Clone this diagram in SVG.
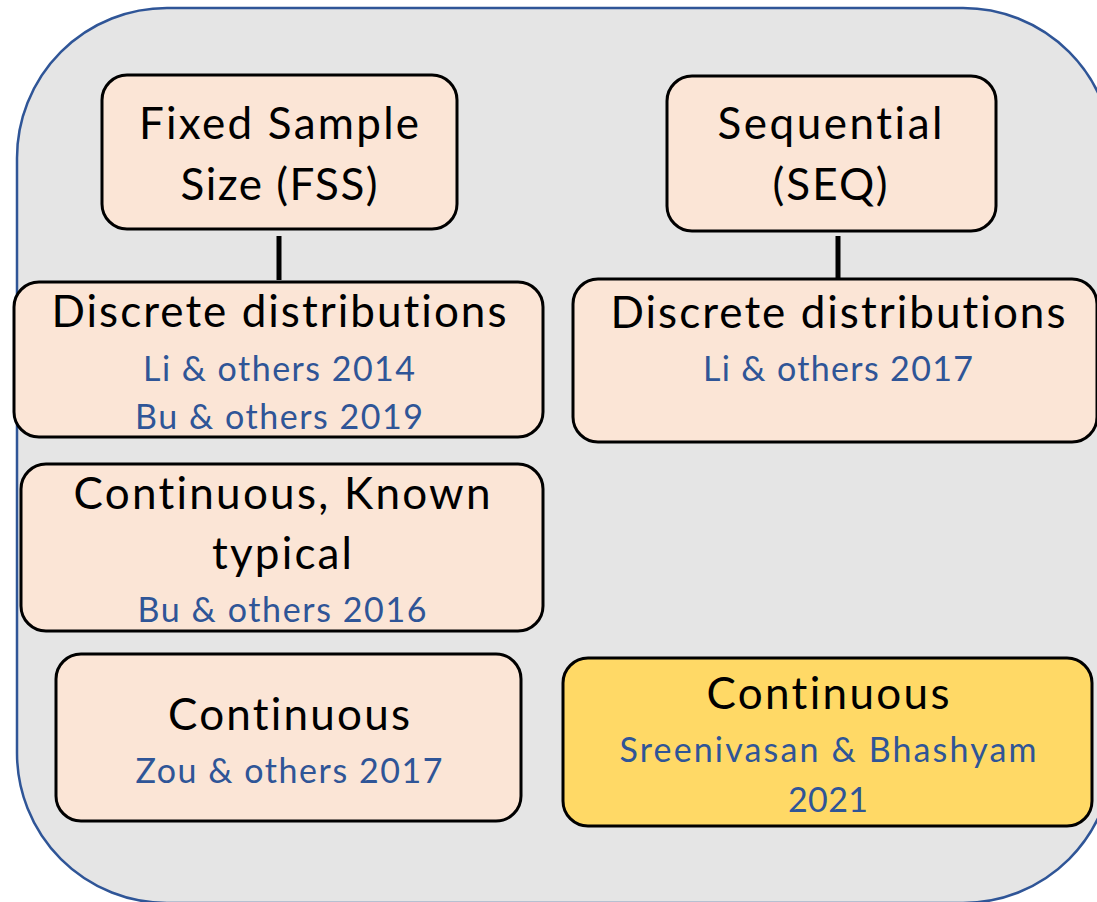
<svg xmlns="http://www.w3.org/2000/svg" width="1097" height="902" viewBox="0 0 1097 902">
  <style>
    .frame { fill: #e5e5e5; stroke: #2f5597; stroke-width: 2.5; }
    .box { fill: #fbe5d6; stroke: #000; stroke-width: 3; }
    .box.hl { fill: #ffd966; }
    text { font-variant-ligatures: none; text-anchor: middle; }
    .title { font-family: Lato, "Open Sans", sans-serif; font-size: 44px; fill: #000; }
    .ref { font-family: Lato, "Open Sans", sans-serif; font-size: 34px; fill: #2f5597; }
    .link { stroke: #000; stroke-width: 5; }
  </style>

  <!-- outer panel (runs past the right and bottom edges) -->
  <rect class="frame" x="17" y="8" width="1096" height="895" rx="150" ry="150"/>

  <g id="connectors">
    <line class="link" x1="279" y1="236" x2="279" y2="280"/>
    <line class="link" x1="838" y1="236" x2="838" y2="279"/>
  </g>

  <g id="fss">
    <rect class="box" x="102" y="75" width="355" height="154" rx="25"/>
    <text class="title" x="279" y="139" textLength="280">Fixed Sample</text>
    <text class="title" x="279" y="200" textLength="197">Size (FSS)</text>
  </g>

  <g id="seq">
    <rect class="box" x="667" y="76" width="329" height="155" rx="25"/>
    <text class="title" x="830" y="139" textLength="225">Sequential</text>
    <text class="title" x="830" y="200" textLength="115">(SEQ)</text>
  </g>

  <g id="fss-discrete">
    <rect class="box" x="14" y="282" width="529" height="155" rx="25"/>
    <text class="title" x="279" y="327" textLength="455">Discrete distributions</text>
    <text class="ref" x="279" y="381" textLength="272">Li &amp; others 2014</text>
    <text class="ref" x="279" y="429" textLength="288">Bu &amp; others 2019</text>
  </g>

  <g id="seq-discrete">
    <rect class="box" x="573" y="279" width="524" height="163" rx="25"/>
    <text class="title" x="838" y="328" textLength="455">Discrete distributions</text>
    <text class="ref" x="838" y="381" textLength="270">Li &amp; others 2017</text>
  </g>

  <g id="fss-continuous-known">
    <rect class="box" x="21" y="464" width="522" height="167" rx="25"/>
    <text class="title" x="282" y="509" textLength="417">Continuous, Known</text>
    <text class="title" x="282" y="569" textLength="140">typical</text>
    <text class="ref" x="282" y="622" textLength="289">Bu &amp; others 2016</text>
  </g>

  <g id="fss-continuous">
    <rect class="box" x="56" y="654" width="465" height="167" rx="25"/>
    <text class="title" x="289" y="730" textLength="242">Continuous</text>
    <text class="ref" x="289" y="783" textLength="307">Zou &amp; others 2017</text>
  </g>

  <g id="seq-continuous">
    <rect class="box hl" x="563" y="658" width="529" height="168" rx="25"/>
    <text class="title" x="828" y="709" textLength="243">Continuous</text>
    <text class="ref" x="828" y="762" textLength="417">Sreenivasan &amp; Bhashyam</text>
    <text class="ref" x="828" y="812" textLength="80">2021</text>
  </g>
</svg>
